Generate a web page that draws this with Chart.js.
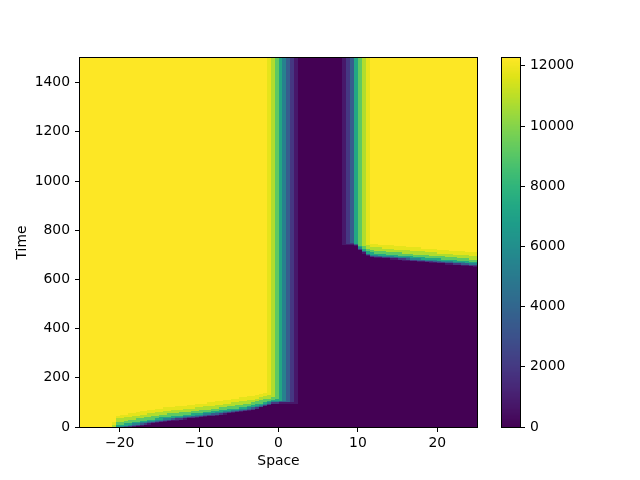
<!DOCTYPE html>
<html>
<head>
<meta charset="utf-8">
<script src="https://cdn.jsdelivr.net/npm/chart.js@4.4.1/dist/chart.umd.min.js"></script>
<style>
html, body { margin: 0; padding: 0; background: #ffffff; }
#wrap { position: relative; width: 640px; height: 480px; }
#wrap canvas { position: absolute; left: 0; top: 0; }
</style>
</head>
<body>
<div id="wrap">
  <canvas id="main" width="640" height="480"></canvas>
  <canvas id="cbar" width="640" height="480"></canvas>
</div>
<script>
// ---------------- data ----------------
const spaceRange = [-25, 25];
const timeRange = [0, 1500];
const xTickValues = [-20, -10, 0, 10, 20];
const yTickValues = [0, 200, 400, 600, 800, 1000, 1200, 1400];
const colorbarTicks = [0, 2000, 4000, 6000, 8000, 10000, 12000];
const colorMax = 12260;
// value of each level digit used in the cell rows
const levelValues = [0, 800, 2000, 3600, 5400, 7300, 9200, 10800, 11800, 12260];
// start time of each row of cells (each row ends where the next begins)
const rowStart = [0, 5, 10, 15, 20, 25, 30, 35, 40, 45, 50, 55, 60, 65, 70, 75, 80, 85, 90, 95,
                  100, 105, 110, 115, 120, 125, 130, 135, 140,
                  650, 655, 660, 665, 670, 675, 680, 685, 690, 695,
                  700, 705, 710, 715, 720, 725, 730, 735, 740, 745, 750];
// 100 space cells per row (run-length: "d*n" = n cells of level d)
const rowCells = [
  "9*8 7 5 4 3 2 1 0*86",
  "9*8 7 555 4 3 2 1 0*84",
  "9*8 8 66 55 44 3 2 1 0*82",
  "9*8 8 6666 55 44 3 2 1 0*80",
  "9*9 77 6666 55 44 3 2 1 0*78",
  "9*9 777 66666 55 44 3 2 11 0*75",
  "9*9 7*5 6*5 55 44 3 22 1 0*73",
  "9*9 88 7*5 6666 5555 44 3 22 1 0*70",
  "9*9 8888 7*5 6*5 555 44 33 2 1 0*68",
  "9*10 8*5 7*5 6*6 555 44 3 22 1 0*65",
  "9*12 8*5 7*5 6*6 555 44 33 2 1 0*63",
  "9*14 8*5 7*6 6*6 555 44 3 2 1 0*61",
  "9*15 8*6 7*7 6*5 555 44 3 2 1 0*59",
  "9*17 8*6 7*7 6*5 555 44 3 2 1 0*57",
  "9*19 8*7 7*7 6666 555 44 3 2 0*56",
  "9*21 8*8 7*6 6*5 55 4 3 2 0*55",
  "9*24 8*7 7*6 6*5 55 4 3 0*54",
  "9*27 8*7 7*5 6666 55 4 2 0*53",
  "9*29 8*7 7*5 666 55 4 2 0*52",
  "9*32 8*6 7*5 666 5 4 22 1*5 0*45",
  "9*34 8*6 7777 666 5 44 333 2 1 0*45",
  "9*36 8*6 777 666 55 54321 0*45",
  "9*38 8*6 77 666 55 4321 0*45",
  "9*40 8*5 777 66 54321 0*45",
  "9*42 8888 777 6 54321 0*45",
  "9*44 888 77 6 54321 0*45",
  "9*45 888 7 6 54321 0*45",
  "9*46 88 7654321 0*45",
  "9*47 87654321 0*45",
  "9*47 87654321 0*44 1",
  "9*47 87654321 0*41 11 22",
  "9*47 87654321 0*37 11 22 33 44",
  "9*47 87654321 0*33 11 22 33 444 555",
  "9*47 87654321 0*30 11 22 33 444 5555 66",
  "9*47 87654321 0*26 11 22 33 444 5*5 6*5",
  "9*47 87654321 0*23 11 22 3 444 5*5 6*7 77",
  "9*47 87654321 0*19 11 22 33 444 5555 6*8 7*5",
  "9*47 87654321 0*18 2 33 444 5*5 6*8 7*8",
  "9*47 87654321 0*17 1 44 5*5 6*8 7*10 88",
  "9*47 87654321 0*17 3 5555 6*7 7*10 8*6",
  "9*47 87654321 0*16 1 55 6*7 7*9 8*10",
  "9*47 87654321 0*16 3 5 6666 7*10 8*10 999",
  "9*47 87654321 0*16 5 66 7*9 8*10 9*7",
  "9*47 87654321 0*15 2 5 6 7*6 8*11 9*10",
  "9*47 87654321 0*15 4 6 7777 8*10 9*14",
  "9*47 87654321 0*15 5 6 7 8*9 9*18",
  "9*47 87654321 0*14 1 6 77 8*6 9*21",
  "9*47 87654321 0*11 111 3 6 7 888 9*25",
  "9*47 87654321 0*11 1 2 2 5 6 7 8 9*27",
  "9*47 87654321 0*11 1235678 9*27"
];
const xTitle = "Space";
const yTitle = "Time";

// ---------------- helpers ----------------
const NCOLS = 100;
function decodeRow(s) {
  const out = [];
  s.trim().split(/\s+/).forEach(tok => {
    if (tok.indexOf('*') >= 0) {
      const parts = tok.split('*');
      const n = parseInt(parts[1], 10);
      for (let k = 0; k < n; k++) out.push(parseInt(parts[0], 10));
    } else {
      for (const ch of tok) out.push(parseInt(ch, 10));
    }
  });
  while (out.length < NCOLS) out.push(out[out.length - 1]);
  return out.slice(0, NCOLS);
}
const grid = rowCells.map(decodeRow);
const rowEnd = rowStart.map((t, r) => (r + 1 < rowStart.length ? rowStart[r + 1] : timeRange[1]));

const viridisStops = ['#440154','#471365','#482475','#463480','#414487','#3b528b','#355f8d',
  '#2f6c8e','#2a788e','#25848e','#21918c','#1e9c89','#22a884','#2fb47c','#44bf70',
  '#5ec962','#7ad151','#9bd93c','#bddf26','#dfe318','#fde725'];
const viridisRGB = viridisStops.map(h => [parseInt(h.slice(1,3),16), parseInt(h.slice(3,5),16), parseInt(h.slice(5,7),16)]);
function viridis(t) {
  t = Math.max(0, Math.min(1, t));
  const f = t * (viridisRGB.length - 1);
  const i = Math.min(viridisRGB.length - 2, Math.floor(f));
  const u = f - i;
  const a = viridisRGB[i], b = viridisRGB[i + 1];
  return 'rgb(' + Math.round(a[0] + (b[0]-a[0])*u) + ',' + Math.round(a[1] + (b[1]-a[1])*u) + ',' + Math.round(a[2] + (b[2]-a[2])*u) + ')';
}
function fmtNum(v) { return v < 0 ? '\u2212' + Math.abs(v) : String(v); }

const FONT = { family: "'DejaVu Sans', sans-serif", size: 13.9 };

function frame(chart) {
  const { ctx, chartArea: a } = chart;
  ctx.save();
  ctx.strokeStyle = '#000';
  ctx.lineWidth = 1;
  ctx.strokeRect(Math.round(a.left) - 0.5, Math.round(a.top) - 0.5,
                 Math.round(a.right) - Math.round(a.left) + 1, Math.round(a.bottom) - Math.round(a.top) + 1);
  ctx.restore();
}

const heatmapPlugin = {
  id: 'heatmap',
  beforeDatasetsDraw(chart) {
    const { ctx, scales: { x, y } } = chart;
    const colW = (spaceRange[1] - spaceRange[0]) / NCOLS;
    ctx.save();
    grid.forEach((row, r) => {
      const yTop = Math.round(y.getPixelForValue(rowEnd[r]));
      const yBot = Math.round(y.getPixelForValue(rowStart[r]));
      if (yBot <= yTop) return;
      row.forEach((lv, c) => {
        const x0 = Math.round(x.getPixelForValue(spaceRange[0] + c * colW));
        const x1 = Math.round(x.getPixelForValue(spaceRange[0] + (c + 1) * colW));
        ctx.fillStyle = viridis(levelValues[lv] / colorMax);
        ctx.fillRect(x0, yTop, x1 - x0, yBot - yTop);
      });
    });
    ctx.restore();
  },
  afterDraw(chart) { frame(chart); }
};

const colorbarPlugin = {
  id: 'colorbar',
  beforeDatasetsDraw(chart) {
    const { ctx, chartArea: a, scales: { y } } = chart;
    const N = 300;
    ctx.save();
    for (let k = 0; k < N; k++) {
      const v0 = colorMax * k / N, v1 = colorMax * (k + 1) / N;
      const yT = Math.floor(y.getPixelForValue(v1));
      const yB = Math.ceil(y.getPixelForValue(v0));
      ctx.fillStyle = viridis((k + 0.5) / N);
      ctx.fillRect(Math.round(a.left), yT, Math.round(a.right) - Math.round(a.left), yB - yT);
    }
    ctx.restore();
  },
  afterDraw(chart) { frame(chart); }
};

const tickGrid = { drawOnChartArea: false, drawTicks: true, tickLength: 5, tickWidth: 1, tickColor: '#000', color: '#000' };

new Chart(document.getElementById('main'), {
  type: 'scatter',
  data: { datasets: [{ data: [], showLine: false }] },
  options: {
    responsive: false,
    animation: false,
    events: [],
    layout: { padding: { left: 0, right: 163, top: 58, bottom: 0 }, autoPadding: false },
    plugins: { legend: { display: false }, tooltip: { enabled: false } },
    scales: {
      x: {
        type: 'linear', min: spaceRange[0], max: spaceRange[1],
        afterBuildTicks: a => { a.ticks = xTickValues.map(v => ({ value: v })); },
        afterFit: a => { a.height = 53; },
        grid: tickGrid,
        border: { display: false },
        ticks: { color: '#000', font: FONT, padding: 3, maxRotation: 0, autoSkip: false, callback: v => fmtNum(v) },
        title: { display: true, text: xTitle, color: '#000', font: FONT, padding: { top: 0, bottom: 10 } }
      },
      y: {
        type: 'linear', min: timeRange[0], max: timeRange[1],
        afterBuildTicks: a => { a.ticks = yTickValues.map(v => ({ value: v })); },
        afterFit: a => { a.width = 80; },
        grid: tickGrid,
        border: { display: false },
        ticks: { color: '#000', font: FONT, padding: 5, autoSkip: false, callback: v => fmtNum(v) },
        title: { display: true, text: yTitle, color: '#000', font: FONT, padding: { top: 14, bottom: 0 } }
      }
    }
  },
  plugins: [heatmapPlugin]
});

new Chart(document.getElementById('cbar'), {
  type: 'scatter',
  data: { datasets: [{ data: [], showLine: false }] },
  options: {
    responsive: false,
    animation: false,
    events: [],
    layout: { padding: { left: 502, right: 0, top: 58, bottom: 53 }, autoPadding: false },
    plugins: { legend: { display: false }, tooltip: { enabled: false } },
    scales: {
      x: { display: false, min: 0, max: 1 },
      y: {
        type: 'linear', position: 'right', min: 0, max: colorMax,
        afterBuildTicks: a => { a.ticks = colorbarTicks.map(v => ({ value: v })); },
        afterFit: a => { a.width = 120; },
        grid: tickGrid,
        border: { display: false },
        ticks: { color: '#000', font: FONT, padding: 5, autoSkip: false, callback: v => String(v) }
      }
    }
  },
  plugins: [colorbarPlugin]
});
</script>
</body>
</html>
